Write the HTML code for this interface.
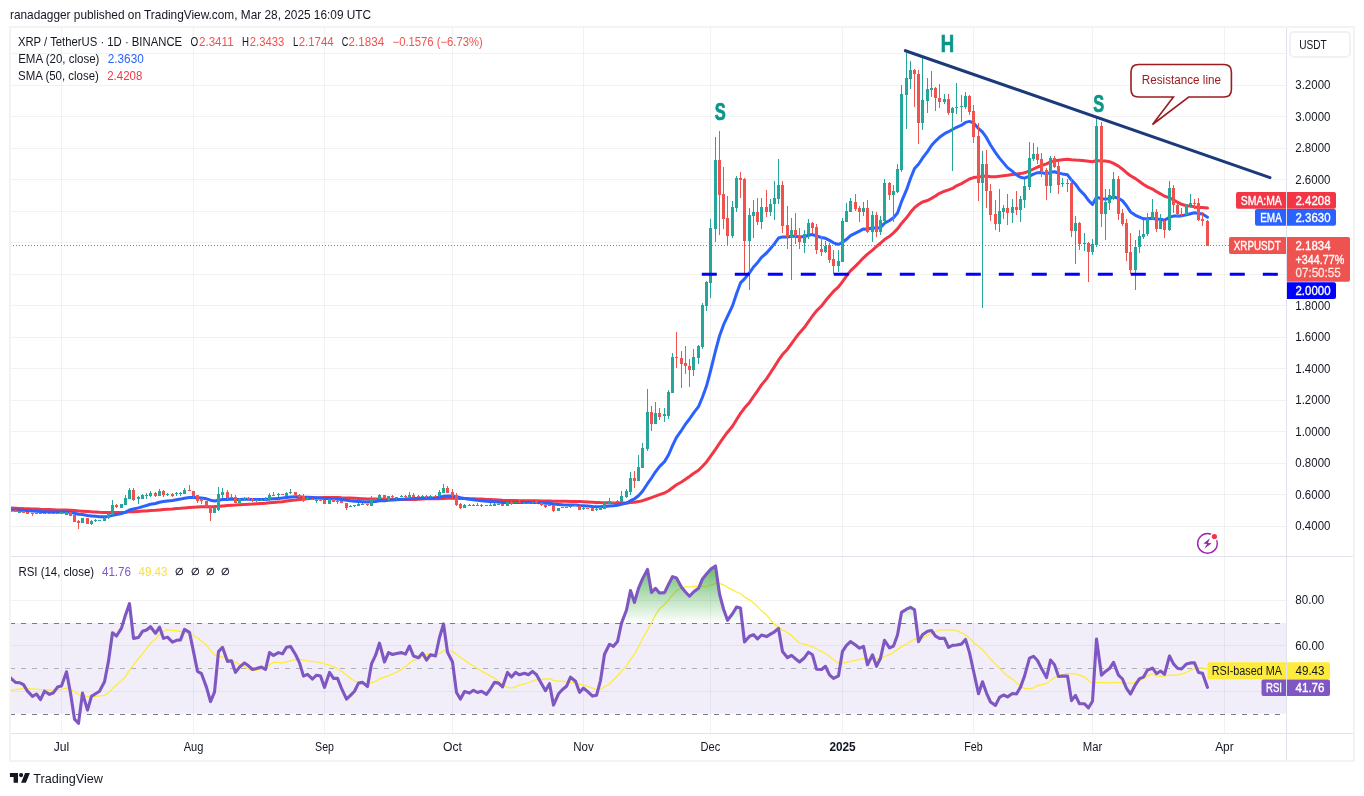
<!DOCTYPE html>
<html lang="en"><head><meta charset="utf-8"><title>XRP / TetherUS chart</title>
<style>
html,body{margin:0;padding:0;background:#fff;}
body{width:1364px;height:796px;overflow:hidden;}
svg{display:block;}
text{font-family:'Liberation Sans', sans-serif;font-size:12px;fill:#131722;}
.ax{font-size:12px;}
.w{fill:#fff;}
</style></head><body>
<svg width="1364" height="796" viewBox="0 0 1364 796">
<rect width="1364" height="796" fill="#fff"/>
<defs><clipPath id="cp"><rect x="11" y="28" width="1275" height="705"/></clipPath></defs>
<g id="grid" shape-rendering="crispEdges"><line x1="61.5" y1="27" x2="61.5" y2="733" stroke="#000000" stroke-opacity="0.05" stroke-width="1"/><line x1="193.5" y1="27" x2="193.5" y2="733" stroke="#000000" stroke-opacity="0.05" stroke-width="1"/><line x1="324.5" y1="27" x2="324.5" y2="733" stroke="#000000" stroke-opacity="0.05" stroke-width="1"/><line x1="452.5" y1="27" x2="452.5" y2="733" stroke="#000000" stroke-opacity="0.05" stroke-width="1"/><line x1="583.5" y1="27" x2="583.5" y2="733" stroke="#000000" stroke-opacity="0.05" stroke-width="1"/><line x1="710.5" y1="27" x2="710.5" y2="733" stroke="#000000" stroke-opacity="0.05" stroke-width="1"/><line x1="842.5" y1="27" x2="842.5" y2="733" stroke="#000000" stroke-opacity="0.05" stroke-width="1"/><line x1="973.5" y1="27" x2="973.5" y2="733" stroke="#000000" stroke-opacity="0.05" stroke-width="1"/><line x1="1092.5" y1="27" x2="1092.5" y2="733" stroke="#000000" stroke-opacity="0.05" stroke-width="1"/><line x1="1224.5" y1="27" x2="1224.5" y2="733" stroke="#000000" stroke-opacity="0.05" stroke-width="1"/><line x1="10" y1="53.5" x2="1286" y2="53.5" stroke="#000000" stroke-opacity="0.05" stroke-width="1"/><line x1="10" y1="85.5" x2="1286" y2="85.5" stroke="#000000" stroke-opacity="0.05" stroke-width="1"/><line x1="10" y1="116.5" x2="1286" y2="116.5" stroke="#000000" stroke-opacity="0.05" stroke-width="1"/><line x1="10" y1="148.5" x2="1286" y2="148.5" stroke="#000000" stroke-opacity="0.05" stroke-width="1"/><line x1="10" y1="179.5" x2="1286" y2="179.5" stroke="#000000" stroke-opacity="0.05" stroke-width="1"/><line x1="10" y1="211.5" x2="1286" y2="211.5" stroke="#000000" stroke-opacity="0.05" stroke-width="1"/><line x1="10" y1="242.5" x2="1286" y2="242.5" stroke="#000000" stroke-opacity="0.05" stroke-width="1"/><line x1="10" y1="274.5" x2="1286" y2="274.5" stroke="#000000" stroke-opacity="0.05" stroke-width="1"/><line x1="10" y1="305.5" x2="1286" y2="305.5" stroke="#000000" stroke-opacity="0.05" stroke-width="1"/><line x1="10" y1="337.5" x2="1286" y2="337.5" stroke="#000000" stroke-opacity="0.05" stroke-width="1"/><line x1="10" y1="368.5" x2="1286" y2="368.5" stroke="#000000" stroke-opacity="0.05" stroke-width="1"/><line x1="10" y1="400.5" x2="1286" y2="400.5" stroke="#000000" stroke-opacity="0.05" stroke-width="1"/><line x1="10" y1="431.5" x2="1286" y2="431.5" stroke="#000000" stroke-opacity="0.05" stroke-width="1"/><line x1="10" y1="463.5" x2="1286" y2="463.5" stroke="#000000" stroke-opacity="0.05" stroke-width="1"/><line x1="10" y1="494.5" x2="1286" y2="494.5" stroke="#000000" stroke-opacity="0.05" stroke-width="1"/><line x1="10" y1="526.5" x2="1286" y2="526.5" stroke="#000000" stroke-opacity="0.05" stroke-width="1"/><line x1="10" y1="600.5" x2="1286" y2="600.5" stroke="#000000" stroke-opacity="0.05" stroke-width="1"/><line x1="10" y1="645.5" x2="1286" y2="645.5" stroke="#000000" stroke-opacity="0.05" stroke-width="1"/><line x1="10" y1="691.5" x2="1286" y2="691.5" stroke="#000000" stroke-opacity="0.05" stroke-width="1"/></g>
<rect x="10" y="623.0" width="1276" height="90.7" fill="#7e57c2" fill-opacity="0.1"/>
<line x1="10" y1="623.5" x2="1286" y2="623.5" stroke="#787b86" stroke-opacity="1" stroke-width="1" stroke-dasharray="5 6" shape-rendering="crispEdges"/>
<line x1="10" y1="668.5" x2="1286" y2="668.5" stroke="#787b86" stroke-opacity="0.55" stroke-width="1" stroke-dasharray="5 6" shape-rendering="crispEdges"/>
<line x1="10" y1="714.5" x2="1286" y2="714.5" stroke="#787b86" stroke-opacity="1" stroke-width="1" stroke-dasharray="5 6" shape-rendering="crispEdges"/>
<polyline points="6.3,508.0 10.5,508.1 15.5,508.3 19.5,508.4 23.5,508.6 27.5,508.7 32.5,508.9 36.5,509.1 40.5,509.3 44.5,509.4 49.5,509.6 53.5,509.7 57.5,509.9 61.5,510.0 66.5,510.1 70.5,510.3 74.5,510.6 78.5,510.9 82.5,511.2 87.5,511.5 91.5,511.8 95.5,512.0 99.5,512.3 104.5,512.5 108.5,512.6 112.5,512.5 116.5,512.5 121.5,512.4 125.5,512.2 129.5,511.8 133.5,511.7 138.5,511.4 142.5,511.1 146.5,510.9 150.5,510.5 155.5,510.3 159.5,509.9 163.5,509.6 167.5,509.3 172.5,509.0 176.5,508.6 180.5,508.3 184.5,507.9 189.5,507.5 193.5,507.2 197.5,507.0 201.5,506.8 206.5,506.7 210.5,506.7 214.5,506.6 218.5,506.3 222.5,505.9 227.5,505.6 231.5,505.3 235.5,505.1 239.5,504.8 244.5,504.5 248.5,504.2 252.5,504.0 256.5,503.7 261.5,503.4 265.5,503.2 269.5,502.8 273.5,502.5 278.5,502.1 282.5,501.7 286.5,501.1 290.5,500.5 295.5,500.0 299.5,499.5 303.5,499.1 307.5,498.7 312.5,498.3 316.5,497.9 320.5,497.7 324.5,497.6 329.5,497.5 333.5,497.4 337.5,497.5 341.5,497.8 346.5,497.9 350.5,498.1 354.5,498.3 358.5,498.5 362.5,498.7 367.5,498.9 371.5,499.0 375.5,499.1 379.5,499.1 384.5,499.2 388.5,499.3 392.5,499.3 396.5,499.5 401.5,499.6 405.5,499.6 409.5,499.5 413.5,499.4 418.5,499.2 422.5,498.9 426.5,498.7 430.5,498.7 435.5,498.8 439.5,498.7 443.5,498.5 447.5,498.3 452.5,498.2 456.5,498.4 460.5,498.5 464.5,498.6 469.5,498.7 473.5,498.8 477.5,498.9 481.5,499.1 486.5,499.4 490.5,499.6 494.5,499.8 498.5,500.0 502.5,500.3 507.5,500.4 511.5,500.5 515.5,500.6 519.5,500.7 524.5,500.7 528.5,500.8 532.5,500.8 536.5,500.8 541.5,500.9 545.5,501.0 549.5,501.1 553.5,501.2 558.5,501.2 562.5,501.3 566.5,501.3 570.5,501.4 575.5,501.4 579.5,501.5 583.5,501.7 587.5,501.9 592.5,502.2 596.5,502.4 600.5,502.6 604.5,502.7 609.5,502.8 613.5,502.9 617.5,503.0 621.5,503.0 626.5,502.9 630.5,502.5 634.5,502.2 638.5,501.6 642.5,500.7 647.5,499.0 651.5,497.6 655.5,496.1 659.5,494.6 664.5,493.0 668.5,490.7 672.5,487.7 676.5,484.8 681.5,482.0 685.5,479.2 689.5,476.5 693.5,473.5 698.5,470.3 702.5,466.3 706.5,461.9 710.5,456.3 715.5,449.4 719.5,443.3 723.5,437.6 727.5,432.2 732.5,426.3 736.5,419.8 740.5,413.4 744.5,408.1 749.5,402.4 753.5,396.5 757.5,390.8 761.5,384.9 766.5,378.9 770.5,372.8 774.5,366.6 778.5,360.2 782.5,354.6 787.5,349.2 791.5,343.6 795.5,338.2 799.5,332.9 804.5,327.3 808.5,321.6 812.5,316.0 816.5,310.9 821.5,306.0 825.5,300.8 829.5,296.0 833.5,291.4 838.5,286.8 842.5,281.6 846.5,276.2 850.5,270.9 855.5,266.1 859.5,262.1 863.5,257.8 867.5,254.2 872.5,250.2 876.5,246.5 880.5,243.1 884.5,239.6 889.5,236.3 893.5,232.9 897.5,228.9 901.5,223.4 906.5,217.8 910.5,212.3 914.5,207.7 918.5,204.5 922.5,202.0 927.5,200.5 931.5,198.4 935.5,196.0 939.5,193.3 944.5,191.2 948.5,189.9 952.5,188.4 956.5,185.8 961.5,183.6 965.5,181.2 969.5,179.0 973.5,177.6 978.5,177.1 982.5,176.3 986.5,176.1 990.5,176.7 995.5,176.7 999.5,176.2 1003.5,175.7 1007.5,175.3 1012.5,174.6 1016.5,174.1 1020.5,173.6 1024.5,172.8 1029.5,170.9 1033.5,169.0 1037.5,167.2 1041.5,165.5 1046.5,163.9 1050.5,161.8 1054.5,160.7 1058.5,160.2 1062.5,159.8 1067.5,159.3 1071.5,159.7 1075.5,160.0 1079.5,160.2 1084.5,160.8 1088.5,161.2 1092.5,161.7 1096.5,160.5 1101.5,160.9 1105.5,161.1 1109.5,161.7 1113.5,163.4 1118.5,166.1 1122.5,169.2 1126.5,172.7 1130.5,175.7 1135.5,178.6 1139.5,181.5 1143.5,184.5 1147.5,186.9 1152.5,189.1 1156.5,191.7 1160.5,193.8 1164.5,196.2 1169.5,197.9 1173.5,199.9 1177.5,202.2 1181.5,204.3 1186.5,205.7 1190.5,206.0 1194.5,206.9 1198.5,207.4 1202.5,207.5 1207.5,208.0" fill="none" stroke="#f23645" stroke-width="3.0" stroke-linejoin="round" stroke-linecap="round" clip-path="url(#cp)"/>
<polyline points="6.3,509.8 10.5,510.0 15.5,510.1 19.5,510.3 23.5,510.5 27.5,510.8 32.5,511.1 36.5,511.2 40.5,511.5 44.5,511.7 49.5,511.9 53.5,512.0 57.5,512.1 61.5,512.1 66.5,512.1 70.5,512.4 74.5,513.3 78.5,514.2 82.5,514.6 87.5,515.5 91.5,515.9 95.5,516.3 99.5,516.7 104.5,516.7 108.5,516.4 112.5,515.4 116.5,514.6 121.5,513.6 125.5,512.1 129.5,510.0 133.5,509.0 138.5,507.9 142.5,506.6 146.5,505.5 150.5,504.3 155.5,503.5 159.5,502.3 163.5,501.6 167.5,500.9 172.5,500.4 176.5,499.7 180.5,499.1 184.5,498.2 189.5,497.5 193.5,497.4 197.5,497.7 201.5,498.0 206.5,498.8 210.5,500.2 214.5,500.9 218.5,500.3 222.5,499.5 227.5,499.4 231.5,499.1 235.5,499.4 239.5,499.4 244.5,499.2 248.5,499.3 252.5,499.4 256.5,499.4 261.5,499.5 265.5,499.6 269.5,499.1 273.5,498.8 278.5,498.4 282.5,498.0 286.5,497.5 290.5,497.0 295.5,496.8 299.5,496.8 303.5,497.2 307.5,497.3 312.5,497.6 316.5,497.8 320.5,498.0 324.5,498.6 329.5,498.6 333.5,498.9 337.5,499.1 341.5,499.5 346.5,500.3 350.5,500.8 354.5,501.2 358.5,501.4 362.5,501.7 367.5,502.0 371.5,501.7 375.5,501.4 379.5,500.8 384.5,500.7 388.5,500.3 392.5,500.0 396.5,499.7 401.5,499.3 405.5,499.1 409.5,498.7 413.5,498.6 418.5,498.4 422.5,498.2 426.5,498.1 430.5,497.9 435.5,497.7 439.5,497.2 443.5,496.3 447.5,496.0 452.5,495.9 456.5,496.8 460.5,497.8 464.5,498.5 469.5,499.2 473.5,499.7 477.5,500.3 481.5,500.7 486.5,501.3 490.5,501.6 494.5,501.8 498.5,502.0 502.5,502.4 507.5,502.4 511.5,502.5 515.5,502.5 519.5,502.5 524.5,502.5 528.5,502.6 532.5,502.6 536.5,502.6 541.5,502.8 545.5,503.2 549.5,503.3 553.5,504.0 558.5,504.4 562.5,504.7 566.5,504.9 570.5,505.0 575.5,505.1 579.5,505.6 583.5,505.8 587.5,506.1 592.5,506.5 596.5,506.7 600.5,506.8 604.5,506.4 609.5,505.9 613.5,505.7 617.5,505.2 621.5,504.3 626.5,503.1 630.5,500.7 634.5,498.8 638.5,495.8 642.5,491.3 647.5,483.7 651.5,478.0 655.5,471.8 659.5,466.6 664.5,461.6 668.5,455.0 672.5,445.7 676.5,437.3 681.5,430.3 685.5,424.2 689.5,419.0 693.5,413.1 698.5,406.7 702.5,397.0 706.5,386.1 710.5,371.0 715.5,350.9 719.5,336.0 723.5,324.9 727.5,316.4 732.5,305.9 736.5,293.8 740.5,282.9 744.5,278.9 749.5,272.8 753.5,267.0 757.5,262.7 761.5,257.4 766.5,253.0 770.5,248.4 774.5,243.6 778.5,238.0 782.5,236.9 787.5,236.9 791.5,236.2 795.5,236.3 799.5,236.9 804.5,236.6 808.5,235.3 812.5,234.6 816.5,236.0 821.5,237.5 825.5,238.3 829.5,240.4 833.5,242.8 838.5,244.5 842.5,242.3 846.5,239.3 850.5,235.7 855.5,233.1 859.5,231.1 863.5,228.9 867.5,229.2 872.5,227.8 876.5,228.2 880.5,227.4 884.5,223.2 889.5,220.5 893.5,217.7 897.5,213.0 901.5,201.7 906.5,189.9 910.5,178.5 914.5,168.6 918.5,164.3 922.5,158.2 927.5,151.6 931.5,145.5 935.5,141.1 939.5,137.3 944.5,133.7 948.5,131.7 952.5,129.5 956.5,127.3 961.5,125.2 965.5,122.4 969.5,121.4 973.5,122.9 978.5,128.6 982.5,132.0 986.5,137.7 990.5,145.0 995.5,152.6 999.5,158.1 1003.5,162.9 1007.5,167.6 1012.5,171.4 1016.5,175.0 1020.5,177.3 1024.5,178.1 1029.5,176.2 1033.5,174.1 1037.5,172.7 1041.5,172.6 1046.5,173.8 1050.5,172.3 1054.5,171.8 1058.5,173.0 1062.5,173.9 1067.5,174.8 1071.5,180.1 1075.5,184.2 1079.5,189.9 1084.5,194.9 1088.5,200.4 1092.5,204.5 1096.5,197.1 1101.5,198.7 1105.5,199.0 1109.5,198.7 1113.5,196.8 1118.5,198.4 1122.5,200.8 1126.5,205.8 1130.5,211.9 1135.5,215.3 1139.5,217.2 1143.5,218.8 1147.5,218.8 1152.5,218.2 1156.5,219.2 1160.5,219.3 1164.5,220.3 1169.5,217.2 1173.5,216.1 1177.5,215.9 1181.5,215.9 1186.5,214.8 1190.5,213.7 1194.5,212.8 1198.5,213.4 1202.5,214.1 1207.5,217.2" fill="none" stroke="#2962ff" stroke-width="3.0" stroke-linejoin="round" stroke-linecap="round" clip-path="url(#cp)"/>
<g id="candles" shape-rendering="crispEdges"><rect x="10" y="510" width="1" height="2" fill="#26a69a"/><rect x="9" y="510" width="3" height="2" fill="#26a69a"/><rect x="15" y="510" width="1" height="2" fill="#ef5350"/><rect x="14" y="510" width="3" height="2" fill="#ef5350"/><rect x="19" y="511" width="1" height="2" fill="#26a69a"/><rect x="18" y="511" width="3" height="2" fill="#26a69a"/><rect x="23" y="511" width="1" height="2" fill="#ef5350"/><rect x="22" y="511" width="3" height="2" fill="#ef5350"/><rect x="27" y="512" width="1" height="2" fill="#ef5350"/><rect x="26" y="512" width="3" height="2" fill="#ef5350"/><rect x="32" y="513" width="1" height="3" fill="#ef5350"/><rect x="31" y="513" width="3" height="1" fill="#ef5350"/><rect x="36" y="513" width="1" height="1" fill="#26a69a"/><rect x="35" y="513" width="3" height="1" fill="#26a69a"/><rect x="40" y="513" width="1" height="1" fill="#ef5350"/><rect x="39" y="513" width="3" height="1" fill="#ef5350"/><rect x="44" y="513" width="1" height="1" fill="#26a69a"/><rect x="43" y="513" width="3" height="1" fill="#26a69a"/><rect x="49" y="513" width="1" height="1" fill="#ef5350"/><rect x="48" y="513" width="3" height="1" fill="#ef5350"/><rect x="53" y="513" width="1" height="1" fill="#26a69a"/><rect x="52" y="513" width="3" height="1" fill="#26a69a"/><rect x="57" y="513" width="1" height="1" fill="#26a69a"/><rect x="56" y="513" width="3" height="1" fill="#26a69a"/><rect x="61" y="512" width="1" height="2" fill="#26a69a"/><rect x="60" y="512" width="3" height="2" fill="#26a69a"/><rect x="66" y="512" width="1" height="3" fill="#26a69a"/><rect x="65" y="512" width="3" height="3" fill="#26a69a"/><rect x="70" y="512" width="1" height="4" fill="#ef5350"/><rect x="69" y="512" width="3" height="4" fill="#ef5350"/><rect x="74" y="515" width="1" height="7" fill="#ef5350"/><rect x="73" y="515" width="3" height="7" fill="#ef5350"/><rect x="78" y="520" width="1" height="9" fill="#ef5350"/><rect x="77" y="521" width="3" height="2" fill="#ef5350"/><rect x="82" y="518" width="1" height="5" fill="#26a69a"/><rect x="81" y="518" width="3" height="5" fill="#26a69a"/><rect x="87" y="518" width="1" height="6" fill="#ef5350"/><rect x="86" y="518" width="3" height="6" fill="#ef5350"/><rect x="91" y="520" width="1" height="5" fill="#26a69a"/><rect x="90" y="521" width="3" height="3" fill="#26a69a"/><rect x="95" y="519" width="1" height="3" fill="#26a69a"/><rect x="94" y="520" width="3" height="1" fill="#26a69a"/><rect x="99" y="520" width="1" height="1" fill="#26a69a"/><rect x="98" y="520" width="3" height="1" fill="#26a69a"/><rect x="104" y="517" width="1" height="4" fill="#26a69a"/><rect x="103" y="518" width="3" height="3" fill="#26a69a"/><rect x="108" y="513" width="1" height="6" fill="#26a69a"/><rect x="107" y="514" width="3" height="4" fill="#26a69a"/><rect x="112" y="500" width="1" height="15" fill="#26a69a"/><rect x="111" y="505" width="3" height="10" fill="#26a69a"/><rect x="116" y="504" width="1" height="4" fill="#ef5350"/><rect x="115" y="505" width="3" height="2" fill="#ef5350"/><rect x="121" y="504" width="1" height="4" fill="#26a69a"/><rect x="120" y="504" width="3" height="4" fill="#26a69a"/><rect x="125" y="495" width="1" height="10" fill="#26a69a"/><rect x="124" y="498" width="3" height="7" fill="#26a69a"/><rect x="129" y="488" width="1" height="11" fill="#26a69a"/><rect x="128" y="490" width="3" height="9" fill="#26a69a"/><rect x="133" y="488" width="1" height="13" fill="#ef5350"/><rect x="132" y="490" width="3" height="10" fill="#ef5350"/><rect x="138" y="496" width="1" height="8" fill="#26a69a"/><rect x="137" y="497" width="3" height="2" fill="#26a69a"/><rect x="142" y="494" width="1" height="5" fill="#26a69a"/><rect x="141" y="495" width="3" height="4" fill="#26a69a"/><rect x="146" y="493" width="1" height="6" fill="#26a69a"/><rect x="145" y="495" width="3" height="1" fill="#26a69a"/><rect x="150" y="491" width="1" height="6" fill="#26a69a"/><rect x="149" y="493" width="3" height="3" fill="#26a69a"/><rect x="155" y="492" width="1" height="5" fill="#ef5350"/><rect x="154" y="493" width="3" height="3" fill="#ef5350"/><rect x="159" y="489" width="1" height="7" fill="#26a69a"/><rect x="158" y="491" width="3" height="5" fill="#26a69a"/><rect x="163" y="490" width="1" height="7" fill="#ef5350"/><rect x="162" y="491" width="3" height="4" fill="#ef5350"/><rect x="167" y="493" width="1" height="3" fill="#26a69a"/><rect x="166" y="494" width="3" height="1" fill="#26a69a"/><rect x="172" y="493" width="1" height="4" fill="#ef5350"/><rect x="171" y="494" width="3" height="2" fill="#ef5350"/><rect x="176" y="492" width="1" height="4" fill="#26a69a"/><rect x="175" y="493" width="3" height="1" fill="#26a69a"/><rect x="180" y="492" width="1" height="4" fill="#26a69a"/><rect x="179" y="493" width="3" height="1" fill="#26a69a"/><rect x="184" y="488" width="1" height="6" fill="#26a69a"/><rect x="183" y="490" width="3" height="4" fill="#26a69a"/><rect x="189" y="485" width="1" height="6" fill="#ef5350"/><rect x="188" y="490" width="3" height="1" fill="#ef5350"/><rect x="193" y="491" width="1" height="8" fill="#ef5350"/><rect x="192" y="491" width="3" height="5" fill="#ef5350"/><rect x="197" y="495" width="1" height="8" fill="#ef5350"/><rect x="196" y="495" width="3" height="6" fill="#ef5350"/><rect x="201" y="498" width="1" height="6" fill="#ef5350"/><rect x="200" y="499" width="3" height="2" fill="#ef5350"/><rect x="206" y="501" width="1" height="6" fill="#ef5350"/><rect x="205" y="501" width="3" height="6" fill="#ef5350"/><rect x="210" y="507" width="1" height="14" fill="#ef5350"/><rect x="209" y="507" width="3" height="6" fill="#ef5350"/><rect x="214" y="507" width="1" height="6" fill="#26a69a"/><rect x="213" y="508" width="3" height="5" fill="#26a69a"/><rect x="218" y="487" width="1" height="24" fill="#26a69a"/><rect x="217" y="494" width="3" height="16" fill="#26a69a"/><rect x="222" y="488" width="1" height="10" fill="#26a69a"/><rect x="221" y="492" width="3" height="3" fill="#26a69a"/><rect x="227" y="490" width="1" height="10" fill="#ef5350"/><rect x="226" y="492" width="3" height="6" fill="#ef5350"/><rect x="231" y="494" width="1" height="4" fill="#26a69a"/><rect x="230" y="497" width="3" height="1" fill="#26a69a"/><rect x="235" y="495" width="1" height="8" fill="#ef5350"/><rect x="234" y="497" width="3" height="6" fill="#ef5350"/><rect x="239" y="498" width="1" height="5" fill="#26a69a"/><rect x="238" y="499" width="3" height="4" fill="#26a69a"/><rect x="244" y="497" width="1" height="3" fill="#26a69a"/><rect x="243" y="498" width="3" height="1" fill="#26a69a"/><rect x="248" y="497" width="1" height="3" fill="#ef5350"/><rect x="247" y="498" width="3" height="1" fill="#ef5350"/><rect x="252" y="498" width="1" height="4" fill="#ef5350"/><rect x="251" y="499" width="3" height="2" fill="#ef5350"/><rect x="256" y="499" width="1" height="3" fill="#26a69a"/><rect x="255" y="500" width="3" height="1" fill="#26a69a"/><rect x="261" y="499" width="1" height="2" fill="#26a69a"/><rect x="260" y="500" width="3" height="1" fill="#26a69a"/><rect x="265" y="497" width="1" height="4" fill="#ef5350"/><rect x="264" y="499" width="3" height="1" fill="#ef5350"/><rect x="269" y="493" width="1" height="8" fill="#26a69a"/><rect x="268" y="495" width="3" height="5" fill="#26a69a"/><rect x="273" y="492" width="1" height="4" fill="#ef5350"/><rect x="272" y="495" width="3" height="1" fill="#ef5350"/><rect x="278" y="493" width="1" height="4" fill="#26a69a"/><rect x="277" y="494" width="3" height="1" fill="#26a69a"/><rect x="282" y="494" width="1" height="1" fill="#ef5350"/><rect x="281" y="494" width="3" height="1" fill="#ef5350"/><rect x="286" y="492" width="1" height="4" fill="#26a69a"/><rect x="285" y="493" width="3" height="3" fill="#26a69a"/><rect x="290" y="489" width="1" height="5" fill="#26a69a"/><rect x="289" y="492" width="3" height="1" fill="#26a69a"/><rect x="295" y="492" width="1" height="3" fill="#ef5350"/><rect x="294" y="492" width="3" height="3" fill="#ef5350"/><rect x="299" y="494" width="1" height="4" fill="#ef5350"/><rect x="298" y="495" width="3" height="2" fill="#ef5350"/><rect x="303" y="494" width="1" height="8" fill="#ef5350"/><rect x="302" y="496" width="3" height="5" fill="#ef5350"/><rect x="307" y="497" width="1" height="3" fill="#26a69a"/><rect x="306" y="498" width="3" height="1" fill="#26a69a"/><rect x="312" y="498" width="1" height="2" fill="#ef5350"/><rect x="311" y="499" width="3" height="1" fill="#ef5350"/><rect x="316" y="499" width="1" height="4" fill="#26a69a"/><rect x="315" y="500" width="3" height="1" fill="#26a69a"/><rect x="320" y="499" width="1" height="2" fill="#ef5350"/><rect x="319" y="500" width="3" height="1" fill="#ef5350"/><rect x="324" y="500" width="1" height="4" fill="#ef5350"/><rect x="323" y="500" width="3" height="4" fill="#ef5350"/><rect x="329" y="499" width="1" height="5" fill="#26a69a"/><rect x="328" y="499" width="3" height="5" fill="#26a69a"/><rect x="333" y="499" width="1" height="3" fill="#ef5350"/><rect x="332" y="499" width="3" height="3" fill="#ef5350"/><rect x="337" y="500" width="1" height="4" fill="#26a69a"/><rect x="336" y="501" width="3" height="1" fill="#26a69a"/><rect x="341" y="501" width="1" height="2" fill="#ef5350"/><rect x="340" y="501" width="3" height="2" fill="#ef5350"/><rect x="346" y="503" width="1" height="7" fill="#ef5350"/><rect x="345" y="503" width="3" height="5" fill="#ef5350"/><rect x="350" y="505" width="1" height="2" fill="#26a69a"/><rect x="349" y="506" width="3" height="1" fill="#26a69a"/><rect x="354" y="505" width="1" height="2" fill="#26a69a"/><rect x="353" y="505" width="3" height="1" fill="#26a69a"/><rect x="358" y="503" width="1" height="3" fill="#26a69a"/><rect x="357" y="504" width="3" height="2" fill="#26a69a"/><rect x="362" y="503" width="1" height="2" fill="#26a69a"/><rect x="361" y="504" width="3" height="1" fill="#26a69a"/><rect x="367" y="504" width="1" height="2" fill="#ef5350"/><rect x="366" y="504" width="3" height="1" fill="#ef5350"/><rect x="371" y="496" width="1" height="10" fill="#26a69a"/><rect x="370" y="499" width="3" height="7" fill="#26a69a"/><rect x="375" y="498" width="1" height="2" fill="#26a69a"/><rect x="374" y="499" width="3" height="1" fill="#26a69a"/><rect x="379" y="494" width="1" height="5" fill="#26a69a"/><rect x="378" y="495" width="3" height="4" fill="#26a69a"/><rect x="384" y="495" width="1" height="4" fill="#ef5350"/><rect x="383" y="495" width="3" height="4" fill="#ef5350"/><rect x="388" y="496" width="1" height="5" fill="#26a69a"/><rect x="387" y="496" width="3" height="4" fill="#26a69a"/><rect x="392" y="495" width="1" height="3" fill="#ef5350"/><rect x="391" y="496" width="3" height="1" fill="#ef5350"/><rect x="396" y="497" width="1" height="3" fill="#26a69a"/><rect x="395" y="497" width="3" height="1" fill="#26a69a"/><rect x="401" y="495" width="1" height="2" fill="#26a69a"/><rect x="400" y="496" width="3" height="1" fill="#26a69a"/><rect x="405" y="495" width="1" height="3" fill="#ef5350"/><rect x="404" y="496" width="3" height="1" fill="#ef5350"/><rect x="409" y="492" width="1" height="6" fill="#26a69a"/><rect x="408" y="495" width="3" height="2" fill="#26a69a"/><rect x="413" y="493" width="1" height="5" fill="#ef5350"/><rect x="412" y="495" width="3" height="2" fill="#ef5350"/><rect x="418" y="495" width="1" height="3" fill="#ef5350"/><rect x="417" y="496" width="3" height="1" fill="#ef5350"/><rect x="422" y="495" width="1" height="2" fill="#26a69a"/><rect x="421" y="496" width="3" height="1" fill="#26a69a"/><rect x="426" y="495" width="1" height="3" fill="#ef5350"/><rect x="425" y="496" width="3" height="1" fill="#ef5350"/><rect x="430" y="495" width="1" height="3" fill="#26a69a"/><rect x="429" y="496" width="3" height="1" fill="#26a69a"/><rect x="435" y="495" width="1" height="2" fill="#ef5350"/><rect x="434" y="496" width="3" height="1" fill="#ef5350"/><rect x="439" y="490" width="1" height="7" fill="#26a69a"/><rect x="438" y="492" width="3" height="4" fill="#26a69a"/><rect x="443" y="484" width="1" height="9" fill="#26a69a"/><rect x="442" y="488" width="3" height="5" fill="#26a69a"/><rect x="447" y="486" width="1" height="7" fill="#ef5350"/><rect x="446" y="488" width="3" height="5" fill="#ef5350"/><rect x="452" y="489" width="1" height="9" fill="#ef5350"/><rect x="451" y="492" width="3" height="4" fill="#ef5350"/><rect x="456" y="493" width="1" height="13" fill="#ef5350"/><rect x="455" y="495" width="3" height="10" fill="#ef5350"/><rect x="460" y="503" width="1" height="6" fill="#ef5350"/><rect x="459" y="504" width="3" height="4" fill="#ef5350"/><rect x="464" y="504" width="1" height="4" fill="#26a69a"/><rect x="463" y="505" width="3" height="3" fill="#26a69a"/><rect x="469" y="504" width="1" height="2" fill="#ef5350"/><rect x="468" y="505" width="3" height="1" fill="#ef5350"/><rect x="473" y="504" width="1" height="2" fill="#26a69a"/><rect x="472" y="505" width="3" height="1" fill="#26a69a"/><rect x="477" y="503" width="1" height="3" fill="#ef5350"/><rect x="476" y="505" width="3" height="1" fill="#ef5350"/><rect x="481" y="504" width="1" height="3" fill="#26a69a"/><rect x="480" y="505" width="3" height="1" fill="#26a69a"/><rect x="486" y="505" width="1" height="1" fill="#ef5350"/><rect x="485" y="505" width="3" height="1" fill="#ef5350"/><rect x="490" y="503" width="1" height="3" fill="#26a69a"/><rect x="489" y="505" width="3" height="1" fill="#26a69a"/><rect x="494" y="503" width="1" height="3" fill="#26a69a"/><rect x="493" y="504" width="3" height="2" fill="#26a69a"/><rect x="498" y="503" width="1" height="2" fill="#26a69a"/><rect x="497" y="504" width="3" height="1" fill="#26a69a"/><rect x="502" y="504" width="1" height="2" fill="#ef5350"/><rect x="501" y="504" width="3" height="2" fill="#ef5350"/><rect x="507" y="502" width="1" height="4" fill="#26a69a"/><rect x="506" y="502" width="3" height="4" fill="#26a69a"/><rect x="511" y="501" width="1" height="4" fill="#ef5350"/><rect x="510" y="502" width="3" height="2" fill="#ef5350"/><rect x="515" y="502" width="1" height="1" fill="#26a69a"/><rect x="514" y="502" width="3" height="1" fill="#26a69a"/><rect x="519" y="500" width="1" height="3" fill="#ef5350"/><rect x="518" y="502" width="3" height="1" fill="#ef5350"/><rect x="524" y="502" width="1" height="2" fill="#26a69a"/><rect x="523" y="503" width="3" height="1" fill="#26a69a"/><rect x="528" y="503" width="1" height="1" fill="#ef5350"/><rect x="527" y="503" width="3" height="1" fill="#ef5350"/><rect x="532" y="502" width="1" height="2" fill="#26a69a"/><rect x="531" y="502" width="3" height="1" fill="#26a69a"/><rect x="536" y="500" width="1" height="4" fill="#ef5350"/><rect x="535" y="501" width="3" height="2" fill="#ef5350"/><rect x="541" y="502" width="1" height="4" fill="#ef5350"/><rect x="540" y="503" width="3" height="2" fill="#ef5350"/><rect x="545" y="505" width="1" height="3" fill="#ef5350"/><rect x="544" y="505" width="3" height="2" fill="#ef5350"/><rect x="549" y="505" width="1" height="1" fill="#26a69a"/><rect x="548" y="505" width="3" height="1" fill="#26a69a"/><rect x="553" y="505" width="1" height="7" fill="#ef5350"/><rect x="552" y="505" width="3" height="6" fill="#ef5350"/><rect x="558" y="508" width="1" height="3" fill="#26a69a"/><rect x="557" y="508" width="3" height="3" fill="#26a69a"/><rect x="562" y="507" width="1" height="1" fill="#26a69a"/><rect x="561" y="507" width="3" height="1" fill="#26a69a"/><rect x="566" y="507" width="1" height="1" fill="#26a69a"/><rect x="565" y="507" width="3" height="1" fill="#26a69a"/><rect x="570" y="505" width="1" height="3" fill="#26a69a"/><rect x="569" y="506" width="3" height="1" fill="#26a69a"/><rect x="575" y="505" width="1" height="1" fill="#ef5350"/><rect x="574" y="505" width="3" height="1" fill="#ef5350"/><rect x="579" y="506" width="1" height="4" fill="#ef5350"/><rect x="578" y="506" width="3" height="4" fill="#ef5350"/><rect x="583" y="507" width="1" height="3" fill="#26a69a"/><rect x="582" y="508" width="3" height="1" fill="#26a69a"/><rect x="587" y="508" width="1" height="1" fill="#ef5350"/><rect x="586" y="508" width="3" height="1" fill="#ef5350"/><rect x="592" y="508" width="1" height="3" fill="#ef5350"/><rect x="591" y="508" width="3" height="3" fill="#ef5350"/><rect x="596" y="508" width="1" height="3" fill="#26a69a"/><rect x="595" y="509" width="3" height="1" fill="#26a69a"/><rect x="600" y="507" width="1" height="3" fill="#26a69a"/><rect x="599" y="507" width="3" height="3" fill="#26a69a"/><rect x="604" y="502" width="1" height="7" fill="#26a69a"/><rect x="603" y="503" width="3" height="6" fill="#26a69a"/><rect x="609" y="498" width="1" height="6" fill="#26a69a"/><rect x="608" y="501" width="3" height="3" fill="#26a69a"/><rect x="613" y="502" width="1" height="1" fill="#ef5350"/><rect x="612" y="502" width="3" height="1" fill="#ef5350"/><rect x="617" y="500" width="1" height="3" fill="#26a69a"/><rect x="616" y="501" width="3" height="1" fill="#26a69a"/><rect x="621" y="491" width="1" height="11" fill="#26a69a"/><rect x="620" y="496" width="3" height="6" fill="#26a69a"/><rect x="626" y="489" width="1" height="9" fill="#26a69a"/><rect x="625" y="491" width="3" height="6" fill="#26a69a"/><rect x="630" y="472" width="1" height="23" fill="#26a69a"/><rect x="629" y="478" width="3" height="14" fill="#26a69a"/><rect x="634" y="471" width="1" height="17" fill="#ef5350"/><rect x="633" y="478" width="3" height="3" fill="#ef5350"/><rect x="638" y="455" width="1" height="26" fill="#26a69a"/><rect x="637" y="467" width="3" height="14" fill="#26a69a"/><rect x="642" y="443" width="1" height="25" fill="#26a69a"/><rect x="641" y="448" width="3" height="20" fill="#26a69a"/><rect x="647" y="389" width="1" height="62" fill="#26a69a"/><rect x="646" y="412" width="3" height="37" fill="#26a69a"/><rect x="651" y="406" width="1" height="25" fill="#ef5350"/><rect x="650" y="412" width="3" height="12" fill="#ef5350"/><rect x="655" y="402" width="1" height="22" fill="#26a69a"/><rect x="654" y="413" width="3" height="11" fill="#26a69a"/><rect x="659" y="408" width="1" height="12" fill="#ef5350"/><rect x="658" y="413" width="3" height="4" fill="#ef5350"/><rect x="664" y="408" width="1" height="14" fill="#26a69a"/><rect x="663" y="414" width="3" height="2" fill="#26a69a"/><rect x="668" y="390" width="1" height="29" fill="#26a69a"/><rect x="667" y="392" width="3" height="24" fill="#26a69a"/><rect x="672" y="353" width="1" height="40" fill="#26a69a"/><rect x="671" y="357" width="3" height="36" fill="#26a69a"/><rect x="676" y="332" width="1" height="36" fill="#ef5350"/><rect x="675" y="357" width="3" height="1" fill="#ef5350"/><rect x="681" y="351" width="1" height="37" fill="#ef5350"/><rect x="680" y="358" width="3" height="6" fill="#ef5350"/><rect x="685" y="346" width="1" height="28" fill="#ef5350"/><rect x="684" y="363" width="3" height="3" fill="#ef5350"/><rect x="689" y="359" width="1" height="28" fill="#ef5350"/><rect x="688" y="366" width="3" height="4" fill="#ef5350"/><rect x="693" y="349" width="1" height="27" fill="#26a69a"/><rect x="692" y="357" width="3" height="13" fill="#26a69a"/><rect x="698" y="345" width="1" height="19" fill="#26a69a"/><rect x="697" y="346" width="3" height="12" fill="#26a69a"/><rect x="702" y="303" width="1" height="46" fill="#26a69a"/><rect x="701" y="305" width="3" height="42" fill="#26a69a"/><rect x="706" y="281" width="1" height="30" fill="#26a69a"/><rect x="705" y="282" width="3" height="24" fill="#26a69a"/><rect x="710" y="219" width="1" height="79" fill="#26a69a"/><rect x="709" y="228" width="3" height="55" fill="#26a69a"/><rect x="715" y="137" width="1" height="105" fill="#26a69a"/><rect x="714" y="160" width="3" height="69" fill="#26a69a"/><rect x="719" y="131" width="1" height="104" fill="#ef5350"/><rect x="718" y="160" width="3" height="35" fill="#ef5350"/><rect x="723" y="167" width="1" height="62" fill="#ef5350"/><rect x="722" y="194" width="3" height="25" fill="#ef5350"/><rect x="727" y="196" width="1" height="49" fill="#ef5350"/><rect x="726" y="218" width="3" height="18" fill="#ef5350"/><rect x="732" y="201" width="1" height="37" fill="#26a69a"/><rect x="731" y="207" width="3" height="29" fill="#26a69a"/><rect x="736" y="176" width="1" height="36" fill="#26a69a"/><rect x="735" y="178" width="3" height="30" fill="#26a69a"/><rect x="740" y="172" width="1" height="26" fill="#ef5350"/><rect x="739" y="178" width="3" height="2" fill="#ef5350"/><rect x="744" y="178" width="1" height="96" fill="#ef5350"/><rect x="743" y="179" width="3" height="62" fill="#ef5350"/><rect x="749" y="208" width="1" height="82" fill="#26a69a"/><rect x="748" y="215" width="3" height="26" fill="#26a69a"/><rect x="753" y="200" width="1" height="38" fill="#26a69a"/><rect x="752" y="212" width="3" height="4" fill="#26a69a"/><rect x="757" y="198" width="1" height="27" fill="#ef5350"/><rect x="756" y="212" width="3" height="10" fill="#ef5350"/><rect x="761" y="198" width="1" height="31" fill="#26a69a"/><rect x="760" y="207" width="3" height="15" fill="#26a69a"/><rect x="766" y="190" width="1" height="27" fill="#ef5350"/><rect x="765" y="207" width="3" height="5" fill="#ef5350"/><rect x="770" y="199" width="1" height="17" fill="#26a69a"/><rect x="769" y="204" width="3" height="8" fill="#26a69a"/><rect x="774" y="181" width="1" height="39" fill="#26a69a"/><rect x="773" y="198" width="3" height="6" fill="#26a69a"/><rect x="778" y="159" width="1" height="45" fill="#26a69a"/><rect x="777" y="185" width="3" height="14" fill="#26a69a"/><rect x="782" y="181" width="1" height="52" fill="#ef5350"/><rect x="781" y="185" width="3" height="41" fill="#ef5350"/><rect x="787" y="206" width="1" height="43" fill="#ef5350"/><rect x="786" y="225" width="3" height="12" fill="#ef5350"/><rect x="791" y="218" width="1" height="62" fill="#26a69a"/><rect x="790" y="230" width="3" height="7" fill="#26a69a"/><rect x="795" y="213" width="1" height="31" fill="#ef5350"/><rect x="794" y="230" width="3" height="6" fill="#ef5350"/><rect x="799" y="228" width="1" height="21" fill="#ef5350"/><rect x="798" y="236" width="3" height="6" fill="#ef5350"/><rect x="804" y="230" width="1" height="23" fill="#26a69a"/><rect x="803" y="234" width="3" height="9" fill="#26a69a"/><rect x="808" y="219" width="1" height="20" fill="#26a69a"/><rect x="807" y="223" width="3" height="11" fill="#26a69a"/><rect x="812" y="222" width="1" height="11" fill="#ef5350"/><rect x="811" y="223" width="3" height="5" fill="#ef5350"/><rect x="816" y="224" width="1" height="30" fill="#ef5350"/><rect x="815" y="227" width="3" height="23" fill="#ef5350"/><rect x="821" y="236" width="1" height="20" fill="#ef5350"/><rect x="820" y="249" width="3" height="3" fill="#ef5350"/><rect x="825" y="241" width="1" height="12" fill="#26a69a"/><rect x="824" y="246" width="3" height="6" fill="#26a69a"/><rect x="829" y="243" width="1" height="20" fill="#ef5350"/><rect x="828" y="245" width="3" height="15" fill="#ef5350"/><rect x="833" y="250" width="1" height="24" fill="#ef5350"/><rect x="832" y="259" width="3" height="7" fill="#ef5350"/><rect x="838" y="250" width="1" height="22" fill="#26a69a"/><rect x="837" y="261" width="3" height="5" fill="#26a69a"/><rect x="842" y="218" width="1" height="44" fill="#26a69a"/><rect x="841" y="221" width="3" height="41" fill="#26a69a"/><rect x="846" y="203" width="1" height="19" fill="#26a69a"/><rect x="845" y="211" width="3" height="11" fill="#26a69a"/><rect x="850" y="198" width="1" height="14" fill="#26a69a"/><rect x="849" y="201" width="3" height="11" fill="#26a69a"/><rect x="855" y="194" width="1" height="17" fill="#ef5350"/><rect x="854" y="202" width="3" height="7" fill="#ef5350"/><rect x="859" y="206" width="1" height="16" fill="#ef5350"/><rect x="858" y="208" width="3" height="4" fill="#ef5350"/><rect x="863" y="202" width="1" height="14" fill="#26a69a"/><rect x="862" y="208" width="3" height="4" fill="#26a69a"/><rect x="867" y="200" width="1" height="33" fill="#ef5350"/><rect x="866" y="208" width="3" height="24" fill="#ef5350"/><rect x="872" y="211" width="1" height="31" fill="#26a69a"/><rect x="871" y="215" width="3" height="17" fill="#26a69a"/><rect x="876" y="212" width="1" height="25" fill="#ef5350"/><rect x="875" y="215" width="3" height="17" fill="#ef5350"/><rect x="880" y="216" width="1" height="19" fill="#26a69a"/><rect x="879" y="220" width="3" height="12" fill="#26a69a"/><rect x="884" y="179" width="1" height="44" fill="#26a69a"/><rect x="883" y="183" width="3" height="38" fill="#26a69a"/><rect x="889" y="182" width="1" height="18" fill="#ef5350"/><rect x="888" y="183" width="3" height="12" fill="#ef5350"/><rect x="893" y="185" width="1" height="37" fill="#26a69a"/><rect x="892" y="191" width="3" height="4" fill="#26a69a"/><rect x="897" y="164" width="1" height="29" fill="#26a69a"/><rect x="896" y="169" width="3" height="23" fill="#26a69a"/><rect x="901" y="85" width="1" height="87" fill="#26a69a"/><rect x="900" y="94" width="3" height="76" fill="#26a69a"/><rect x="906" y="53" width="1" height="76" fill="#26a69a"/><rect x="905" y="78" width="3" height="17" fill="#26a69a"/><rect x="910" y="61" width="1" height="28" fill="#26a69a"/><rect x="909" y="70" width="3" height="9" fill="#26a69a"/><rect x="914" y="69" width="1" height="38" fill="#ef5350"/><rect x="913" y="70" width="3" height="4" fill="#ef5350"/><rect x="918" y="70" width="1" height="74" fill="#ef5350"/><rect x="917" y="74" width="3" height="49" fill="#ef5350"/><rect x="922" y="58" width="1" height="72" fill="#26a69a"/><rect x="921" y="100" width="3" height="23" fill="#26a69a"/><rect x="927" y="78" width="1" height="35" fill="#26a69a"/><rect x="926" y="89" width="3" height="12" fill="#26a69a"/><rect x="931" y="71" width="1" height="26" fill="#26a69a"/><rect x="930" y="88" width="3" height="2" fill="#26a69a"/><rect x="935" y="87" width="1" height="24" fill="#ef5350"/><rect x="934" y="88" width="3" height="10" fill="#ef5350"/><rect x="939" y="84" width="1" height="24" fill="#ef5350"/><rect x="938" y="98" width="3" height="4" fill="#ef5350"/><rect x="944" y="94" width="1" height="10" fill="#26a69a"/><rect x="943" y="99" width="3" height="3" fill="#26a69a"/><rect x="948" y="94" width="1" height="21" fill="#ef5350"/><rect x="947" y="99" width="3" height="14" fill="#ef5350"/><rect x="952" y="107" width="1" height="64" fill="#26a69a"/><rect x="951" y="108" width="3" height="5" fill="#26a69a"/><rect x="956" y="83" width="1" height="31" fill="#26a69a"/><rect x="955" y="107" width="3" height="1" fill="#26a69a"/><rect x="961" y="95" width="1" height="27" fill="#26a69a"/><rect x="960" y="106" width="3" height="1" fill="#26a69a"/><rect x="965" y="92" width="1" height="17" fill="#26a69a"/><rect x="964" y="96" width="3" height="11" fill="#26a69a"/><rect x="969" y="95" width="1" height="20" fill="#ef5350"/><rect x="968" y="96" width="3" height="16" fill="#ef5350"/><rect x="973" y="105" width="1" height="38" fill="#ef5350"/><rect x="972" y="111" width="3" height="26" fill="#ef5350"/><rect x="978" y="123" width="1" height="78" fill="#ef5350"/><rect x="977" y="136" width="3" height="47" fill="#ef5350"/><rect x="982" y="151" width="1" height="157" fill="#26a69a"/><rect x="981" y="164" width="3" height="19" fill="#26a69a"/><rect x="986" y="150" width="1" height="58" fill="#ef5350"/><rect x="985" y="164" width="3" height="27" fill="#ef5350"/><rect x="990" y="184" width="1" height="37" fill="#ef5350"/><rect x="989" y="191" width="3" height="24" fill="#ef5350"/><rect x="995" y="200" width="1" height="30" fill="#ef5350"/><rect x="994" y="214" width="3" height="10" fill="#ef5350"/><rect x="999" y="189" width="1" height="43" fill="#26a69a"/><rect x="998" y="211" width="3" height="13" fill="#26a69a"/><rect x="1003" y="205" width="1" height="14" fill="#26a69a"/><rect x="1002" y="208" width="3" height="4" fill="#26a69a"/><rect x="1007" y="194" width="1" height="31" fill="#ef5350"/><rect x="1006" y="208" width="3" height="5" fill="#ef5350"/><rect x="1012" y="199" width="1" height="24" fill="#26a69a"/><rect x="1011" y="207" width="3" height="6" fill="#26a69a"/><rect x="1016" y="191" width="1" height="24" fill="#ef5350"/><rect x="1015" y="207" width="3" height="3" fill="#ef5350"/><rect x="1020" y="196" width="1" height="26" fill="#26a69a"/><rect x="1019" y="199" width="3" height="11" fill="#26a69a"/><rect x="1024" y="179" width="1" height="29" fill="#26a69a"/><rect x="1023" y="186" width="3" height="14" fill="#26a69a"/><rect x="1029" y="142" width="1" height="48" fill="#26a69a"/><rect x="1028" y="158" width="3" height="29" fill="#26a69a"/><rect x="1033" y="143" width="1" height="18" fill="#26a69a"/><rect x="1032" y="154" width="3" height="5" fill="#26a69a"/><rect x="1037" y="147" width="1" height="17" fill="#ef5350"/><rect x="1036" y="154" width="3" height="6" fill="#ef5350"/><rect x="1041" y="153" width="1" height="24" fill="#ef5350"/><rect x="1040" y="159" width="3" height="12" fill="#ef5350"/><rect x="1046" y="168" width="1" height="32" fill="#ef5350"/><rect x="1045" y="170" width="3" height="16" fill="#ef5350"/><rect x="1050" y="156" width="1" height="37" fill="#26a69a"/><rect x="1049" y="158" width="3" height="28" fill="#26a69a"/><rect x="1054" y="156" width="1" height="12" fill="#ef5350"/><rect x="1053" y="158" width="3" height="9" fill="#ef5350"/><rect x="1058" y="161" width="1" height="33" fill="#ef5350"/><rect x="1057" y="166" width="3" height="19" fill="#ef5350"/><rect x="1062" y="178" width="1" height="9" fill="#26a69a"/><rect x="1061" y="183" width="3" height="1" fill="#26a69a"/><rect x="1067" y="179" width="1" height="13" fill="#26a69a"/><rect x="1066" y="183" width="3" height="1" fill="#26a69a"/><rect x="1071" y="179" width="1" height="58" fill="#ef5350"/><rect x="1070" y="183" width="3" height="48" fill="#ef5350"/><rect x="1075" y="216" width="1" height="48" fill="#26a69a"/><rect x="1074" y="223" width="3" height="8" fill="#26a69a"/><rect x="1079" y="222" width="1" height="28" fill="#ef5350"/><rect x="1078" y="223" width="3" height="21" fill="#ef5350"/><rect x="1084" y="233" width="1" height="18" fill="#26a69a"/><rect x="1083" y="243" width="3" height="1" fill="#26a69a"/><rect x="1088" y="242" width="1" height="40" fill="#ef5350"/><rect x="1087" y="243" width="3" height="9" fill="#ef5350"/><rect x="1092" y="239" width="1" height="16" fill="#26a69a"/><rect x="1091" y="244" width="3" height="8" fill="#26a69a"/><rect x="1096" y="117" width="1" height="130" fill="#26a69a"/><rect x="1095" y="126" width="3" height="119" fill="#26a69a"/><rect x="1101" y="122" width="1" height="105" fill="#ef5350"/><rect x="1100" y="126" width="3" height="88" fill="#ef5350"/><rect x="1105" y="189" width="1" height="51" fill="#26a69a"/><rect x="1104" y="202" width="3" height="12" fill="#26a69a"/><rect x="1109" y="189" width="1" height="21" fill="#26a69a"/><rect x="1108" y="195" width="3" height="8" fill="#26a69a"/><rect x="1113" y="172" width="1" height="28" fill="#26a69a"/><rect x="1112" y="179" width="3" height="20" fill="#26a69a"/><rect x="1118" y="176" width="1" height="44" fill="#ef5350"/><rect x="1117" y="179" width="3" height="35" fill="#ef5350"/><rect x="1122" y="209" width="1" height="17" fill="#ef5350"/><rect x="1121" y="213" width="3" height="11" fill="#ef5350"/><rect x="1126" y="219" width="1" height="42" fill="#ef5350"/><rect x="1125" y="223" width="3" height="30" fill="#ef5350"/><rect x="1130" y="233" width="1" height="41" fill="#ef5350"/><rect x="1129" y="252" width="3" height="18" fill="#ef5350"/><rect x="1135" y="240" width="1" height="50" fill="#26a69a"/><rect x="1134" y="247" width="3" height="23" fill="#26a69a"/><rect x="1139" y="230" width="1" height="23" fill="#26a69a"/><rect x="1138" y="236" width="3" height="11" fill="#26a69a"/><rect x="1143" y="220" width="1" height="19" fill="#26a69a"/><rect x="1142" y="234" width="3" height="3" fill="#26a69a"/><rect x="1147" y="213" width="1" height="23" fill="#26a69a"/><rect x="1146" y="219" width="3" height="15" fill="#26a69a"/><rect x="1152" y="199" width="1" height="21" fill="#26a69a"/><rect x="1151" y="212" width="3" height="7" fill="#26a69a"/><rect x="1156" y="209" width="1" height="23" fill="#ef5350"/><rect x="1155" y="212" width="3" height="17" fill="#ef5350"/><rect x="1160" y="214" width="1" height="15" fill="#26a69a"/><rect x="1159" y="221" width="3" height="8" fill="#26a69a"/><rect x="1164" y="220" width="1" height="18" fill="#ef5350"/><rect x="1163" y="221" width="3" height="9" fill="#ef5350"/><rect x="1169" y="181" width="1" height="50" fill="#26a69a"/><rect x="1168" y="188" width="3" height="42" fill="#26a69a"/><rect x="1173" y="185" width="1" height="28" fill="#ef5350"/><rect x="1172" y="188" width="3" height="17" fill="#ef5350"/><rect x="1177" y="201" width="1" height="17" fill="#ef5350"/><rect x="1176" y="205" width="3" height="9" fill="#ef5350"/><rect x="1181" y="208" width="1" height="9" fill="#ef5350"/><rect x="1180" y="214" width="3" height="1" fill="#ef5350"/><rect x="1186" y="204" width="1" height="11" fill="#26a69a"/><rect x="1185" y="204" width="3" height="11" fill="#26a69a"/><rect x="1190" y="194" width="1" height="14" fill="#26a69a"/><rect x="1189" y="203" width="3" height="2" fill="#26a69a"/><rect x="1194" y="199" width="1" height="10" fill="#ef5350"/><rect x="1193" y="203" width="3" height="1" fill="#ef5350"/><rect x="1198" y="198" width="1" height="23" fill="#ef5350"/><rect x="1197" y="203" width="3" height="17" fill="#ef5350"/><rect x="1202" y="212" width="1" height="14" fill="#ef5350"/><rect x="1201" y="219" width="3" height="2" fill="#ef5350"/><rect x="1207" y="220" width="1" height="26" fill="#ef5350"/><rect x="1206" y="221" width="3" height="25" fill="#ef5350"/></g>
<line x1="10" y1="245.5" x2="1286" y2="245.5" stroke="#ef5350" stroke-width="1" stroke-dasharray="1 2" shape-rendering="crispEdges"/>
<line x1="701.8" y1="274.3" x2="1286" y2="274.3" stroke="#0000ff" stroke-width="3" stroke-dasharray="15 18"/>
<line x1="905.4" y1="50.7" x2="1270" y2="177.6" stroke="#1c3a7a" stroke-width="3.1" stroke-linecap="round"/>
<polyline points="6.3,690.9 10.5,690.3 15.5,689.6 19.5,689.0 23.5,688.6 27.5,688.6 32.5,688.9 36.5,689.1 40.5,689.7 44.5,689.7 49.5,690.0 53.5,690.1 57.5,689.8 61.5,689.4 66.5,688.0 70.5,689.1 74.5,691.7 78.5,694.6 82.5,695.2 87.5,696.6 91.5,696.6 95.5,696.5 99.5,695.9 104.5,695.3 108.5,692.9 112.5,688.6 116.5,684.9 121.5,680.8 125.5,676.7 129.5,670.3 133.5,664.6 138.5,658.5 142.5,654.0 146.5,648.3 150.5,643.3 155.5,639.0 159.5,634.5 163.5,631.4 167.5,629.7 172.5,630.3 176.5,630.6 180.5,631.5 184.5,632.5 189.5,634.6 193.5,635.5 197.5,638.0 201.5,641.0 206.5,645.1 210.5,650.4 214.5,654.6 218.5,656.4 222.5,657.0 227.5,658.8 231.5,660.1 235.5,662.4 239.5,664.3 244.5,666.7 248.5,669.1 252.5,670.4 256.5,670.2 261.5,669.7 265.5,668.4 269.5,664.9 273.5,662.3 278.5,662.3 282.5,662.8 286.5,661.8 290.5,660.8 295.5,659.5 299.5,659.2 303.5,660.2 307.5,660.8 312.5,661.4 316.5,661.9 320.5,662.6 324.5,663.8 329.5,665.2 333.5,666.9 337.5,668.7 341.5,671.2 346.5,674.9 350.5,678.4 354.5,681.0 358.5,682.5 362.5,682.9 367.5,683.8 371.5,682.7 375.5,681.3 379.5,678.9 384.5,677.1 388.5,675.7 392.5,674.0 396.5,672.2 401.5,669.7 405.5,666.4 409.5,662.9 413.5,660.4 418.5,658.6 422.5,656.5 426.5,654.6 430.5,654.0 435.5,654.0 439.5,653.6 443.5,650.9 447.5,650.8 452.5,651.4 456.5,654.2 460.5,657.5 464.5,660.2 469.5,663.5 473.5,666.0 477.5,668.5 481.5,671.2 486.5,673.7 490.5,676.1 494.5,678.0 498.5,681.2 502.5,685.7 507.5,687.2 511.5,688.2 515.5,686.8 519.5,685.1 524.5,683.8 528.5,682.5 532.5,681.1 536.5,679.8 541.5,679.3 545.5,679.0 549.5,678.7 553.5,680.3 558.5,681.1 562.5,681.2 566.5,682.2 570.5,682.3 575.5,682.9 579.5,684.1 583.5,685.2 587.5,686.4 592.5,688.1 596.5,689.6 600.5,689.4 604.5,686.8 609.5,684.0 613.5,679.8 617.5,676.0 621.5,671.3 626.5,665.9 630.5,659.7 634.5,654.0 638.5,646.6 642.5,638.8 647.5,630.1 651.5,622.7 655.5,615.0 659.5,608.8 664.5,604.4 668.5,600.1 672.5,595.1 676.5,590.6 681.5,588.0 685.5,586.7 689.5,587.1 693.5,586.4 698.5,586.4 702.5,586.4 706.5,586.7 710.5,585.1 715.5,583.5 719.5,583.6 723.5,584.7 727.5,587.3 732.5,589.9 736.5,592.0 740.5,593.5 744.5,597.1 749.5,599.9 753.5,603.0 757.5,606.6 761.5,610.6 766.5,615.1 770.5,619.7 774.5,624.4 778.5,626.9 782.5,629.9 787.5,632.6 791.5,635.5 795.5,639.2 799.5,643.1 804.5,644.2 808.5,645.3 812.5,646.8 816.5,649.0 821.5,651.4 825.5,653.5 829.5,656.5 833.5,659.8 838.5,663.2 842.5,663.1 846.5,662.3 850.5,661.3 855.5,660.3 859.5,659.3 863.5,658.5 867.5,659.4 872.5,659.4 876.5,659.2 880.5,658.4 884.5,656.5 889.5,654.6 893.5,652.3 897.5,649.4 901.5,646.6 906.5,644.0 910.5,641.6 914.5,639.1 918.5,638.6 922.5,637.8 927.5,635.4 931.5,633.6 935.5,631.5 939.5,630.1 944.5,629.9 948.5,629.9 952.5,629.8 956.5,630.6 961.5,632.8 965.5,635.0 969.5,638.2 973.5,642.6 978.5,646.3 982.5,649.7 986.5,654.1 990.5,659.2 995.5,664.1 999.5,668.3 1003.5,672.4 1007.5,675.9 1012.5,679.3 1016.5,682.8 1020.5,685.9 1024.5,688.5 1029.5,688.9 1033.5,687.9 1037.5,685.5 1041.5,684.6 1046.5,683.5 1050.5,680.5 1054.5,677.6 1058.5,676.1 1062.5,674.7 1067.5,673.3 1071.5,673.8 1075.5,673.9 1079.5,675.1 1084.5,677.1 1088.5,680.6 1092.5,683.8 1096.5,682.3 1101.5,682.7 1105.5,682.3 1109.5,682.9 1113.5,682.7 1118.5,682.6 1122.5,682.8 1126.5,683.7 1130.5,683.2 1135.5,682.5 1139.5,680.7 1143.5,678.7 1147.5,676.1 1152.5,673.7 1156.5,676.2 1160.5,675.9 1164.5,676.1 1169.5,675.2 1173.5,675.3 1177.5,674.8 1181.5,674.1 1186.5,672.3 1190.5,670.1 1194.5,668.6 1198.5,668.1 1202.5,667.8 1207.5,669.1" fill="none" stroke="#ffeb3b" stroke-width="1.3" stroke-linejoin="round" clip-path="url(#cp)"/>
<defs><linearGradient id="ob" gradientUnits="userSpaceOnUse" x1="0" y1="555" x2="0" y2="623.5"><stop offset="0" stop-color="#4caf50" stop-opacity="1"/><stop offset="1" stop-color="#4caf50" stop-opacity="0"/></linearGradient></defs><polygon points="122.9,623.5 125.5,614.9 129.5,603.6 131.8,623.5" fill="url(#ob)"/><polygon points="621.4,623.5 621.5,623.1 626.5,610.0 630.5,590.5 634.5,602.4 638.5,588.3 642.5,578.9 647.5,569.4 651.5,592.4 655.5,588.3 659.5,593.0 664.5,592.6 668.5,584.5 672.5,576.6 676.5,577.9 681.5,587.3 685.5,592.0 689.5,596.2 693.5,592.0 698.5,588.3 702.5,578.9 706.5,574.1 710.5,569.4 715.5,566.0 719.5,593.9 723.5,609.0 727.5,620.3 732.5,613.7 736.5,607.1 740.5,608.1 742.3,623.5" fill="url(#ob)"/><polygon points="899.5,623.5 901.5,612.4 906.5,609.2 910.5,607.3 914.5,609.8 916.2,623.5" fill="url(#ob)"/>
<polyline points="6.3,672.0 10.5,678.0 15.5,682.4 19.5,682.7 23.5,684.6 27.5,691.2 32.5,696.3 36.5,694.0 40.5,699.7 44.5,691.2 49.5,694.4 53.5,692.7 57.5,687.1 61.5,685.9 66.5,671.8 70.5,693.1 74.5,719.1 78.5,723.3 82.5,693.1 87.5,710.1 91.5,696.3 95.5,693.7 99.5,691.2 104.5,681.8 108.5,661.1 112.5,632.8 116.5,636.0 121.5,628.1 125.5,614.9 129.5,603.6 133.5,638.4 138.5,637.5 142.5,631.3 146.5,630.0 150.5,626.7 155.5,633.3 159.5,627.1 163.5,638.4 167.5,637.1 172.5,642.2 176.5,640.3 180.5,639.9 184.5,629.4 189.5,632.4 193.5,651.6 197.5,671.4 201.5,673.7 206.5,687.4 210.5,701.6 214.5,692.2 218.5,651.6 222.5,647.3 227.5,661.4 231.5,660.7 235.5,672.4 239.5,667.1 244.5,662.9 248.5,665.8 252.5,669.5 256.5,668.6 261.5,667.1 265.5,669.5 269.5,652.6 273.5,655.4 278.5,652.6 282.5,653.9 286.5,647.3 290.5,646.4 295.5,654.5 299.5,662.9 303.5,676.1 307.5,674.3 312.5,679.0 316.5,675.2 320.5,676.1 324.5,687.4 329.5,672.4 333.5,678.4 337.5,678.4 341.5,688.4 346.5,699.1 350.5,695.4 354.5,691.2 358.5,683.1 362.5,682.4 367.5,686.5 371.5,663.9 375.5,655.4 379.5,643.1 384.5,662.0 388.5,652.6 392.5,654.5 396.5,653.5 401.5,652.6 405.5,654.1 409.5,646.0 413.5,656.0 418.5,657.7 422.5,653.1 426.5,660.1 430.5,654.8 435.5,656.0 439.5,637.5 443.5,623.9 447.5,652.2 452.5,662.0 456.5,692.5 460.5,699.1 464.5,691.6 469.5,693.1 473.5,690.3 477.5,692.5 481.5,691.2 486.5,694.4 490.5,688.8 494.5,682.4 498.5,683.1 502.5,686.9 507.5,672.4 511.5,677.1 515.5,672.4 519.5,674.8 524.5,673.3 528.5,674.8 532.5,671.4 536.5,674.8 541.5,683.7 545.5,690.7 549.5,683.7 553.5,705.1 558.5,693.8 562.5,689.5 566.5,686.3 570.5,677.2 575.5,681.2 579.5,692.3 583.5,688.2 587.5,691.4 592.5,696.1 596.5,695.3 600.5,680.6 604.5,654.3 609.5,644.3 613.5,646.3 617.5,641.6 621.5,623.1 626.5,610.0 630.5,590.5 634.5,602.4 638.5,588.3 642.5,578.9 647.5,569.4 651.5,592.4 655.5,588.3 659.5,593.0 664.5,592.6 668.5,584.5 672.5,576.6 676.5,577.9 681.5,587.3 685.5,592.0 689.5,596.2 693.5,592.0 698.5,588.3 702.5,578.9 706.5,574.1 710.5,569.4 715.5,566.0 719.5,593.9 723.5,609.0 727.5,620.3 732.5,613.7 736.5,607.1 740.5,608.1 744.5,642.0 749.5,636.3 753.5,634.7 757.5,638.8 761.5,635.0 766.5,636.6 770.5,634.1 774.5,631.8 778.5,628.4 782.5,651.6 787.5,657.7 791.5,655.4 795.5,658.8 799.5,662.0 804.5,657.7 808.5,652.2 812.5,654.8 816.5,669.2 821.5,669.5 825.5,666.3 829.5,674.8 833.5,678.4 838.5,675.8 842.5,651.3 846.5,645.4 850.5,641.6 855.5,645.0 859.5,648.2 863.5,646.4 867.5,664.8 872.5,654.8 876.5,666.3 880.5,658.2 884.5,640.3 889.5,647.9 893.5,646.0 897.5,635.0 901.5,612.4 906.5,609.2 910.5,607.3 914.5,609.8 918.5,641.8 922.5,634.7 927.5,631.3 931.5,630.5 935.5,636.2 939.5,638.4 944.5,638.4 948.5,647.3 952.5,645.4 956.5,645.0 961.5,644.1 965.5,639.4 969.5,652.6 973.5,671.0 978.5,693.7 982.5,681.8 986.5,693.1 990.5,702.0 995.5,705.4 999.5,697.4 1003.5,695.0 1007.5,696.9 1012.5,693.5 1016.5,694.0 1020.5,687.1 1024.5,676.1 1029.5,658.2 1033.5,656.3 1037.5,660.5 1041.5,668.6 1046.5,677.6 1050.5,660.1 1054.5,664.8 1058.5,676.5 1062.5,676.1 1067.5,676.1 1071.5,700.6 1075.5,695.4 1079.5,703.8 1084.5,703.8 1088.5,707.8 1092.5,701.2 1096.5,639.0 1101.5,675.2 1105.5,671.4 1109.5,668.6 1113.5,662.4 1118.5,675.2 1122.5,679.0 1126.5,688.4 1130.5,694.0 1135.5,684.6 1139.5,678.6 1143.5,677.1 1147.5,670.1 1152.5,668.2 1156.5,673.7 1160.5,671.0 1164.5,674.3 1169.5,656.0 1173.5,663.9 1177.5,668.2 1181.5,669.0 1186.5,663.9 1190.5,662.9 1194.5,662.9 1198.5,672.4 1202.5,673.3 1207.5,687.4" fill="none" stroke="#7e57c2" stroke-width="3.1" stroke-linejoin="round" stroke-linecap="round" clip-path="url(#cp)"/>
<g shape-rendering="crispEdges" fill="none" stroke="#e0e3eb" stroke-width="1">
<line x1="1286.5" y1="28" x2="1286.5" y2="760"/>
<line x1="11" y1="556.5" x2="1353" y2="556.5"/>
<line x1="11" y1="733.5" x2="1353" y2="733.5"/>
<rect x="10" y="27" width="1344" height="734" stroke="#f3f3f4" stroke-width="2"/>
</g>
<text x="1295.3" y="88.8" textLength="35.1" lengthAdjust="spacingAndGlyphs">3.2000</text><text x="1295.3" y="120.8" textLength="35.1" lengthAdjust="spacingAndGlyphs">3.0000</text><text x="1295.3" y="151.8" textLength="35.1" lengthAdjust="spacingAndGlyphs">2.8000</text><text x="1295.3" y="183.8" textLength="35.1" lengthAdjust="spacingAndGlyphs">2.6000</text><text x="1295.3" y="309.8" textLength="35.1" lengthAdjust="spacingAndGlyphs">1.8000</text><text x="1295.3" y="340.8" textLength="35.1" lengthAdjust="spacingAndGlyphs">1.6000</text><text x="1295.3" y="372.8" textLength="35.1" lengthAdjust="spacingAndGlyphs">1.4000</text><text x="1295.3" y="403.8" textLength="35.1" lengthAdjust="spacingAndGlyphs">1.2000</text><text x="1295.3" y="435.8" textLength="35.1" lengthAdjust="spacingAndGlyphs">1.0000</text><text x="1295.3" y="466.8" textLength="35.1" lengthAdjust="spacingAndGlyphs">0.8000</text><text x="1295.3" y="498.8" textLength="35.1" lengthAdjust="spacingAndGlyphs">0.6000</text><text x="1295.3" y="529.8" textLength="35.1" lengthAdjust="spacingAndGlyphs">0.4000</text>
<text x="1295.3" y="604.2" textLength="29" lengthAdjust="spacingAndGlyphs">80.00</text><text x="1295.3" y="649.5" textLength="29" lengthAdjust="spacingAndGlyphs">60.00</text>
<text x="53.8" y="750.8" textLength="15.5" lengthAdjust="spacingAndGlyphs">Jul</text><text x="183.7" y="750.8" textLength="19.7" lengthAdjust="spacingAndGlyphs">Aug</text><text x="315.1" y="750.8" textLength="18.9" lengthAdjust="spacingAndGlyphs">Sep</text><text x="443.1" y="750.8" textLength="18.9" lengthAdjust="spacingAndGlyphs">Oct</text><text x="573.2" y="750.8" textLength="20.5" lengthAdjust="spacingAndGlyphs">Nov</text><text x="700.6" y="750.8" textLength="19.7" lengthAdjust="spacingAndGlyphs">Dec</text><text x="829.4" y="750.8" textLength="26.3" lengthAdjust="spacingAndGlyphs" style="font-weight:bold;">2025</text><text x="964.2" y="750.8" textLength="18.5" lengthAdjust="spacingAndGlyphs">Feb</text><text x="1082.8" y="750.8" textLength="19.5" lengthAdjust="spacingAndGlyphs">Mar</text><text x="1215.2" y="750.8" textLength="18.5" lengthAdjust="spacingAndGlyphs">Apr</text>
<rect x="1290" y="32" width="60" height="25" rx="4" fill="#fff" stroke="#f1f1f3" stroke-width="2"/><text x="1299.2" y="48.6" textLength="27.6" lengthAdjust="spacingAndGlyphs">USDT</text>
<path d="M1286 192 H1238 Q1236 192 1236 194 V206.7 Q1236 208.7 1238 208.7 H1286 Z" fill="#f23645"/><text x="1240.8" y="204.6" textLength="41" lengthAdjust="spacingAndGlyphs" style="fill:#fff;stroke:#fff;stroke-width:0.35px;">SMA:MA</text><path d="M1287 192 H1334 Q1336 192 1336 194 V206.7 Q1336 208.7 1334 208.7 H1287 Z" fill="#f23645"/><text x="1295.5" y="204.6" textLength="35" lengthAdjust="spacingAndGlyphs" style="fill:#fff;stroke:#fff;stroke-width:0.35px;">2.4208</text>
<path d="M1286 209 H1257 Q1255 209 1255 211 V223.7 Q1255 225.7 1257 225.7 H1286 Z" fill="#2962ff"/><text x="1260.2" y="221.6" textLength="21.6" lengthAdjust="spacingAndGlyphs" style="fill:#fff;stroke:#fff;stroke-width:0.35px;">EMA</text><path d="M1287 209 H1334 Q1336 209 1336 211 V223.7 Q1336 225.7 1334 225.7 H1287 Z" fill="#2962ff"/><text x="1295.5" y="221.6" textLength="35" lengthAdjust="spacingAndGlyphs" style="fill:#fff;stroke:#fff;stroke-width:0.35px;">2.3630</text>
<path d="M1286 237 H1231 Q1229 237 1229 239 V251.9 Q1229 253.9 1231 253.9 H1286 Z" fill="#ef5350"/><text x="1233.8" y="249.5" textLength="46.9" lengthAdjust="spacingAndGlyphs" style="fill:#fff;stroke:#fff;stroke-width:0.35px;">XRPUSDT</text><path d="M1287 237 H1348 Q1350 237 1350 239 V279.7 Q1350 281.7 1348 281.7 H1287 Z" fill="#ef5350"/><text x="1295.5" y="249.5" textLength="35" lengthAdjust="spacingAndGlyphs" style="fill:#fff;stroke:#fff;stroke-width:0.35px;">2.1834</text><text x="1295.5" y="263.8" textLength="48.7" lengthAdjust="spacingAndGlyphs" style="fill:#fff;stroke:#fff;stroke-width:0.35px;">+344.77%</text><text x="1295.5" y="277.2" textLength="45.2" lengthAdjust="spacingAndGlyphs" style="fill:#fff;stroke:#fff;stroke-width:0.3px;fill-opacity:0.8;stroke-opacity:0.8;">07:50:55</text>
<path d="M1287 282.2 H1334 Q1336 282.2 1336 284.2 V297 Q1336 299 1334 299 H1287 Z" fill="#0000ff"/><text x="1295.5" y="294.6" textLength="35" lengthAdjust="spacingAndGlyphs" style="fill:#fff;stroke:#fff;stroke-width:0.35px;">2.0000</text>
<path d="M1286 662.3 H1209.5 Q1207.5 662.3 1207.5 664.3 V677.3 Q1207.5 679.3 1209.5 679.3 H1286 Z" fill="#ffeb3b"/><text x="1211.7" y="675" textLength="70.3" lengthAdjust="spacingAndGlyphs" style="fill:#131722;">RSI-based MA</text><path d="M1287 662.3 H1328 Q1330 662.3 1330 664.3 V677.3 Q1330 679.3 1328 679.3 H1287 Z" fill="#ffeb3b"/><text x="1295.5" y="675" textLength="29" lengthAdjust="spacingAndGlyphs" style="fill:#131722;">49.43</text>
<path d="M1286 679.5 H1263.5 Q1261.5 679.5 1261.5 681.5 V694 Q1261.5 696 1263.5 696 H1286 Z" fill="#7e57c2"/><text x="1266" y="692" textLength="16" lengthAdjust="spacingAndGlyphs" style="fill:#fff;stroke:#fff;stroke-width:0.35px;">RSI</text><path d="M1287 679.5 H1328 Q1330 679.5 1330 681.5 V694 Q1330 696 1328 696 H1287 Z" fill="#7e57c2"/><text x="1295.5" y="692" textLength="29" lengthAdjust="spacingAndGlyphs" style="fill:#fff;stroke:#fff;stroke-width:0.35px;">41.76</text>
<text x="10" y="19.1" textLength="361.1" lengthAdjust="spacingAndGlyphs" style="font-size:13px;">ranadagger published on TradingView.com, Mar 28, 2025 16:09 UTC</text>
<text x="17.9" y="45.8" textLength="164.2" lengthAdjust="spacingAndGlyphs">XRP / TetherUS · 1D · BINANCE</text><text x="190.6" y="45.8" textLength="7.7" lengthAdjust="spacingAndGlyphs">O</text><text x="199" y="45.8" textLength="34.6" lengthAdjust="spacingAndGlyphs" style="fill:#ef5350;">2.3411</text><text x="242.1" y="45.8" textLength="7" lengthAdjust="spacingAndGlyphs">H</text><text x="249.8" y="45.8" textLength="34.6" lengthAdjust="spacingAndGlyphs" style="fill:#ef5350;">2.3433</text><text x="292.9" y="45.8" textLength="5.3" lengthAdjust="spacingAndGlyphs">L</text><text x="298.7" y="45.8" textLength="35" lengthAdjust="spacingAndGlyphs" style="fill:#ef5350;">2.1744</text><text x="341.8" y="45.8" textLength="6.6" lengthAdjust="spacingAndGlyphs">C</text><text x="348.6" y="45.8" textLength="35.5" lengthAdjust="spacingAndGlyphs" style="fill:#ef5350;">2.1834</text><text x="392.6" y="45.8" textLength="90.2" lengthAdjust="spacingAndGlyphs" style="fill:#ef5350;">−0.1576 (−6.73%)</text>
<text x="18.2" y="62.8" textLength="81.2" lengthAdjust="spacingAndGlyphs">EMA (20, close)</text><text x="107.8" y="62.8" textLength="35.9" lengthAdjust="spacingAndGlyphs" style="fill:#2962ff;">2.3630</text>
<text x="18" y="79.6" textLength="80.9" lengthAdjust="spacingAndGlyphs">SMA (50, close)</text><text x="107.2" y="79.6" textLength="35.1" lengthAdjust="spacingAndGlyphs" style="fill:#f23645;">2.4208</text>
<text x="18.4" y="575.8" textLength="75.7" lengthAdjust="spacingAndGlyphs">RSI (14, close)</text><text x="101.9" y="575.8" textLength="29.2" lengthAdjust="spacingAndGlyphs" style="fill:#7e57c2;">41.76</text><text x="138.5" y="575.8" textLength="29" lengthAdjust="spacingAndGlyphs" style="fill:#fbdf3c;">49.43</text><text x="179.6" y="575.2" text-anchor="middle" style="fill:#131722;stroke:#131722;stroke-width:0.3px;font-size:9.6px;">∅</text><text x="195.5" y="575.2" text-anchor="middle" style="fill:#131722;stroke:#131722;stroke-width:0.3px;font-size:9.6px;">∅</text><text x="210.4" y="575.2" text-anchor="middle" style="fill:#131722;stroke:#131722;stroke-width:0.3px;font-size:9.6px;">∅</text><text x="225.4" y="575.2" text-anchor="middle" style="fill:#131722;stroke:#131722;stroke-width:0.3px;font-size:9.6px;">∅</text>
<text x="714.7" y="120" textLength="11" lengthAdjust="spacingAndGlyphs" style="fill:#0a9688;stroke:#0a9688;stroke-width:0.7px;font-size:23px;font-weight:bold;">S</text><text x="940.8" y="52" textLength="13.4" lengthAdjust="spacingAndGlyphs" style="fill:#0a9688;stroke:#0a9688;stroke-width:0.7px;font-size:23px;font-weight:bold;">H</text><text x="1093.2" y="112.2" textLength="10.9" lengthAdjust="spacingAndGlyphs" style="fill:#0a9688;stroke:#0a9688;stroke-width:0.7px;font-size:23px;font-weight:bold;">S</text>
<path d="M1138.5 64.5 H1223.9 Q1231.4 64.5 1231.4 72 V89.5 Q1231.4 97 1223.9 97 H1188.7 L1152.5 124.5 L1173.4 97 H1138.5 Q1131 97 1131 89.5 V72 Q1131 64.5 1138.5 64.5 Z" fill="#fff" stroke="#9c1c20" stroke-width="1.6" stroke-linejoin="miter"/><text x="1141.8" y="83.6" textLength="79.2" lengthAdjust="spacingAndGlyphs" style="fill:#9c1c20;">Resistance line</text>
<g><circle cx="1207.5" cy="543.4" r="9.85" fill="#fff" stroke="#9c27b0" stroke-width="1.45"/><path d="M1209.9 538.2 L1203.4 543.6 L1207 543.9 L1204.3 548.7 L1211.7 543.2 L1208 542.9 Z" fill="#9c27b0"/><circle cx="1214.4" cy="536.5" r="4.3" fill="#fff"/><circle cx="1214.4" cy="536.5" r="2.6" fill="#f23645"/></g>
<g fill="#131722"><path d="M9.9 773 h8.1 v9.7 h-4.4 v-5.7 h-3.7 z"/><circle cx="21.1" cy="775.1" r="2.1"/><path d="M25.1 773 h4.8 l-4 9.7 h-4.8 z"/></g><text x="33.3" y="782.7" textLength="69.6" lengthAdjust="spacingAndGlyphs" style="font-size:13px;">TradingView</text>
</svg></body></html>
